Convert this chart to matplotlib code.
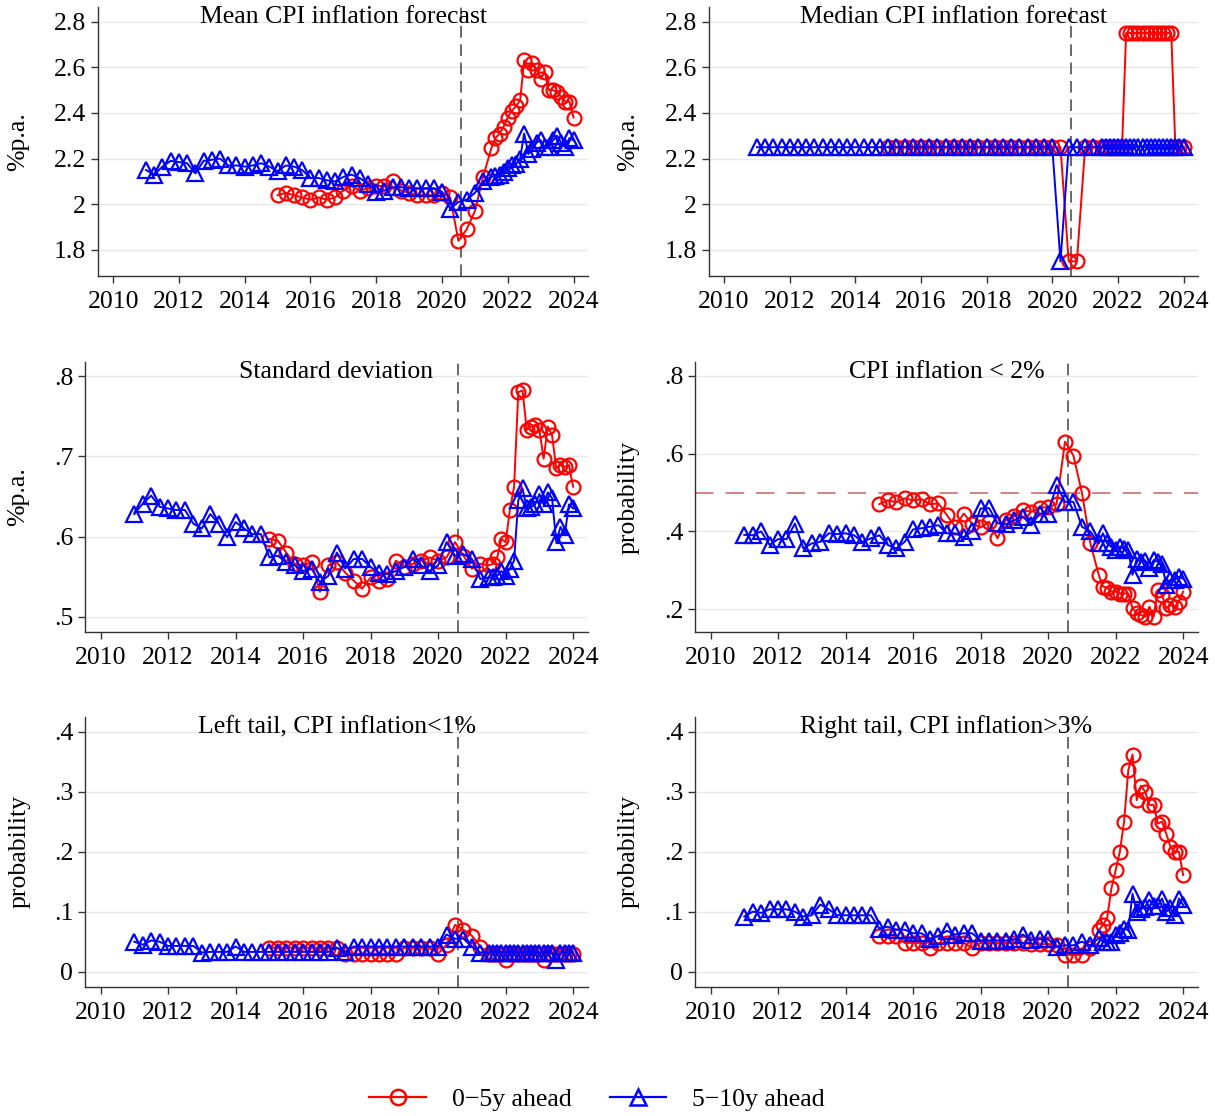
import numpy as np
import matplotlib
matplotlib.use("Agg")
import matplotlib.pyplot as plt
from matplotlib.lines import Line2D

plt.rcParams['font.family'] = ['Liberation Serif', 'DejaVu Serif']

# survey dates: quarterly up to 2021Q2, then every survey round (8 per year)
t_5_10 = np.r_[np.arange(2011, 2021.3, 0.25), np.arange(2021.5, 2024.01, 0.125)]
t_0_5 = np.r_[np.arange(2015, 2021.3, 0.25), np.arange(2021.5, 2024.01, 0.125)]
event_date = 2020.58

# Mean CPI inflation forecast
mean_5_10 = [2.15, 2.13, 2.165, 2.19, 2.185, 2.18, 2.135, 2.19, 2.195, 2.20,
             2.17, 2.17, 2.165, 2.17, 2.18, 2.165, 2.145, 2.17, 2.165, 2.15,
             2.115, 2.115, 2.105, 2.10, 2.12, 2.13, 2.115, 2.09, 2.055, 2.06,
             2.075, 2.075, 2.07, 2.07, 2.07, 2.07, 2.055, 1.98, 2.01, 2.02,
             2.05, 2.10,
             2.12, 2.125, 2.13, 2.14, 2.16, 2.17, 2.175, 2.20, 2.31, 2.22,
             2.24, 2.27, 2.28, 2.25, 2.25, 2.28, 2.30, 2.27, 2.25, 2.29, 2.28]
mean_0_5 = [2.04, 2.05, 2.04, 2.03, 2.02, 2.03, 2.02, 2.03, 2.06, 2.08,
            2.06, 2.07, 2.08, 2.08, 2.10, 2.06, 2.05, 2.04, 2.04, 2.04,
            2.05, 2.03, 1.84, 1.89, 1.97, 2.12,
            2.245, 2.29, 2.31, 2.34, 2.38, 2.41, 2.43, 2.455, 2.63, 2.59,
            2.62, 2.59, 2.55, 2.58, 2.50, 2.50, 2.49, 2.47, 2.45, 2.45, 2.38]

# Median CPI inflation forecast
median_5_10 = [2.25, 2.25, 2.25, 2.25, 2.25, 2.25, 2.25, 2.25, 2.25, 2.25,
               2.25, 2.25, 2.25, 2.25, 2.25, 2.25, 2.25, 2.25, 2.25, 2.25,
               2.25, 2.25, 2.25, 2.25, 2.25, 2.25, 2.25, 2.25, 2.25, 2.25,
               2.25, 2.25, 2.25, 2.25, 2.25, 2.25, 2.25, 1.75, 2.25, 2.25,
               2.25, 2.25,
               2.25, 2.25, 2.25, 2.25, 2.25, 2.25, 2.25, 2.25, 2.25, 2.25,
               2.25, 2.25, 2.25, 2.25, 2.25, 2.25, 2.25, 2.25, 2.25, 2.25, 2.25]
median_0_5 = [2.25, 2.25, 2.25, 2.25, 2.25, 2.25, 2.25, 2.25, 2.25, 2.25,
              2.25, 2.25, 2.25, 2.25, 2.25, 2.25, 2.25, 2.25, 2.25, 2.25,
              2.25, 2.25, 1.75, 1.75, 2.25, 2.25,
              2.25, 2.25, 2.25, 2.25, 2.25, 2.25, 2.75, 2.75, 2.75, 2.75,
              2.75, 2.75, 2.75, 2.75, 2.75, 2.75, 2.75, 2.75, 2.25, 2.25, 2.25]

# Standard deviation
sd_5_10 = [.628, .641, .651, .637, .635, .633, .633, .616, .610, .628,
           .616, .599, .618, .610, .603, .603, .574, .576, .568, .564,
           .557, .560, .543, .551, .580, .560, .572, .572, .562, .555,
           .553, .557, .562, .572, .564, .557, .564, .593, .576, .578,
           .572, .547,
           .549, .549, .551, .557, .551, .560, .570, .645, .660, .635,
           .637, .640, .653, .640, .655, .648, .593, .612, .602, .640, .635]
sd_0_5 = [.597, .595, .580, .566, .564, .568, .531, .564, .568, .555,
          .545, .535, .549, .545, .547, .570, .562, .566, .570, .574,
          .570, .574, .593, .576, .560, .566,
          .564, .566, .574, .597, .593, .633, .662, .780, .782, .733,
          .737, .739, .733, .697, .737, .726, .685, .689, .687, .689, .662]

# probability CPI inflation < 2%
below2_5_10 = [.391, .39, .40, .365, .38, .38, .42, .356, .369, .373,
               .395, .393, .395, .39, .373, .382, .39, .365, .356, .373,
               .405, .408, .412, .416, .395, .395, .385, .40, .459, .46,
               .421, .418, .429, .438, .416, .446, .446, .519, .476, .476,
               .412, .40,
               .369, .395, .369, .36, .352, .36, .355, .352, .288, .33,
               .322, .325, .305, .326, .322, .315, .262, .275, .275, .283, .278]
below2_0_5 = [.47, .48, .475, .485, .48, .483, .47, .472, .442, .412,
              .446, .42, .41, .425, .382, .43, .44, .455, .45, .46,
              .463, .47, .631, .595, .50, .37,
              .288, .258, .255, .245, .245, .24, .24, .24, .202, .19,
              .185, .18, .206, .18, .249, .236, .202, .21, .206, .219, .245]

# Left tail, CPI inflation < 1%
left_5_10 = [.05, .045, .052, .05, .043, .043, .043, .043, .032, .033,
             .033, .033, .042, .033, .033, .033, .033, .033, .033, .033,
             .033, .033, .033, .033, .04, .033, .042, .042, .042, .042,
             .042, .042, .042, .042, .042, .042, .042, .062, .055, .055,
             .042, .032,
             .032, .032, .032, .032, .032, .032, .032, .032, .032, .032,
             .032, .032, .032, .032, .032, .032, .02, .032, .032, .032, .032]
left_0_5 = [.04, .04, .04, .04, .04, .04, .04, .04, .04, .03,
            .03, .03, .03, .03, .03, .03, .04, .04, .04, .04,
            .03, .045, .078, .07, .06, .042,
            .03, .03, .03, .03, .02, .03, .03, .03, .03, .03,
            .03, .03, .03, .02, .03, .03, .03, .03, .03, .03, .03]

# Right tail, CPI inflation > 3%
right_5_10 = [.092, .10, .098, .104, .104, .104, .10, .092, .094, .112,
              .104, .094, .094, .094, .094, .094, .072, .075, .07, .07,
              .064, .064, .055, .06, .068, .062, .064, .064, .052, .052,
              .052, .052, .054, .062, .053, .054, .054, .042, .044, .044,
              .05, .044,
              .056, .05, .05, .05, .061, .064, .072, .069, .13, .10,
              .104, .108, .12, .11, .11, .122, .10, .106, .094, .122, .111]
right_0_5 = [.06, .06, .06, .048, .048, .048, .04, .048, .048, .048,
             .048, .04, .048, .048, .048, .048, .048, .048, .046, .046,
             .046, .044, .028, .028, .028, .039,
             .069, .078, .09, .139, .169, .20, .25, .336, .362, .286,
             .31, .30, .278, .278, .247, .25, .23, .208, .20, .20, .161]

titles = ["Mean CPI inflation forecast", "Median CPI inflation forecast",
          "Standard deviation", "CPI inflation < 2%",
          "Left tail, CPI inflation<1%", "Right tail, CPI inflation>3%"]
ylabels = ["%p.a.", "%p.a.", "%p.a.", "probability", "probability", "probability"]
series_0_5 = [mean_0_5, median_0_5, sd_0_5, below2_0_5, left_0_5, right_0_5]
series_5_10 = [mean_5_10, median_5_10, sd_5_10, below2_5_10, left_5_10, right_5_10]
ytick_vals = [[1.8, 2, 2.2, 2.4, 2.6, 2.8], [1.8, 2, 2.2, 2.4, 2.6, 2.8],
              [.5, .6, .7, .8], [.2, .4, .6, .8],
              [0, .1, .2, .3, .4], [0, .1, .2, .3, .4]]
ytick_labs = [["1.8", "2", "2.2", "2.4", "2.6", "2.8"], ["1.8", "2", "2.2", "2.4", "2.6", "2.8"],
              [".5", ".6", ".7", ".8"], [".2", ".4", ".6", ".8"],
              ["0", ".1", ".2", ".3", ".4"], ["0", ".1", ".2", ".3", ".4"]]
xtick_vals = [2010, 2012, 2014, 2016, 2018, 2020, 2022, 2024]

# layout in pixels: left, right, top, bottom, ylim, ylabel x (pixels)
W, H = 1215, 1116
boxes = [(98, 588, 7, 276, (1.686, 2.864), 29),
         (709, 1198, 7, 276, (1.686, 2.864), 639),
         (85, 588, 362, 632, (0.481, 0.8175), 29),
         (695, 1198, 362, 632, (0.141, 0.836), 640),
         (85, 588, 717, 987, (-0.0255, 0.4245), 31),
         (695, 1198, 717, 987, (-0.0255, 0.4245), 640)]

fig = plt.figure(figsize=(W / 100, H / 100), dpi=100)
fs = 18.5
red = '#ff0000'
blue = '#0000ff'

for i in range(6):
    l, r, t, b, ylim, lx = boxes[i]
    ax = fig.add_axes([l / W, 1 - b / H, (r - l) / W, (b - t) / H])
    ax.plot(t_0_5, series_0_5[i], color=red, lw=1.4, marker='o', ms=10,
            mfc='none', mec=red, mew=1.6, zorder=3)
    ax.plot(t_5_10, series_5_10[i], color=blue, lw=1.4, marker='^', ms=11,
            mfc='none', mec=blue, mew=1.6, zorder=4)
    ax.axvline(event_date, color='#505050', lw=1.2, dashes=(7, 4), zorder=2)
    if i == 3:
        ax.axhline(0.5, color='#c86060', lw=1.1, dashes=(12, 8), zorder=2)
    ax.set_xlim(2009.54, 2024.44)
    ax.set_ylim(*ylim)
    ax.set_xticks(xtick_vals)
    ax.set_yticks(ytick_vals[i])
    ax.set_yticklabels(ytick_labs[i])
    ax.tick_params(direction='out', length=5, width=1, labelsize=fs, pad=3.5,
                   color='#333333')
    ax.tick_params(axis='x', pad=5.5)
    ax.yaxis.grid(True, color='#e8e8e8', lw=1)
    ax.set_axisbelow(True)
    for s in ['top', 'right']:
        ax.spines[s].set_visible(False)
    for s in ['left', 'bottom']:
        ax.spines[s].set_color('#333333')
        ax.spines[s].set_linewidth(1)
    ax.set_ylabel(ylabels[i], fontsize=fs)
    ax.yaxis.set_label_coords((lx - l) / (r - l), 0.5)
    ax.text(0.5, 1 - 10 / (b - t), titles[i], transform=ax.transAxes,
            ha='center', va='center', fontsize=fs, zorder=5)

handles = [Line2D([], [], color=red, lw=1.6, marker='o', ms=11, mfc='none', mec=red, mew=1.8),
           Line2D([], [], color=blue, lw=1.6, marker='^', ms=12, mfc='none', mec=blue, mew=1.8)]
fig.legend(handles, ["0\u22125y ahead", "5\u221210y ahead"], loc='center',
           bbox_to_anchor=(597 / W, 1 - 1100 / H), ncol=2, frameon=False,
           fontsize=fs, handlelength=2.2, columnspacing=1.5, handletextpad=1.0)

fig.savefig("out.png", dpi=100)
